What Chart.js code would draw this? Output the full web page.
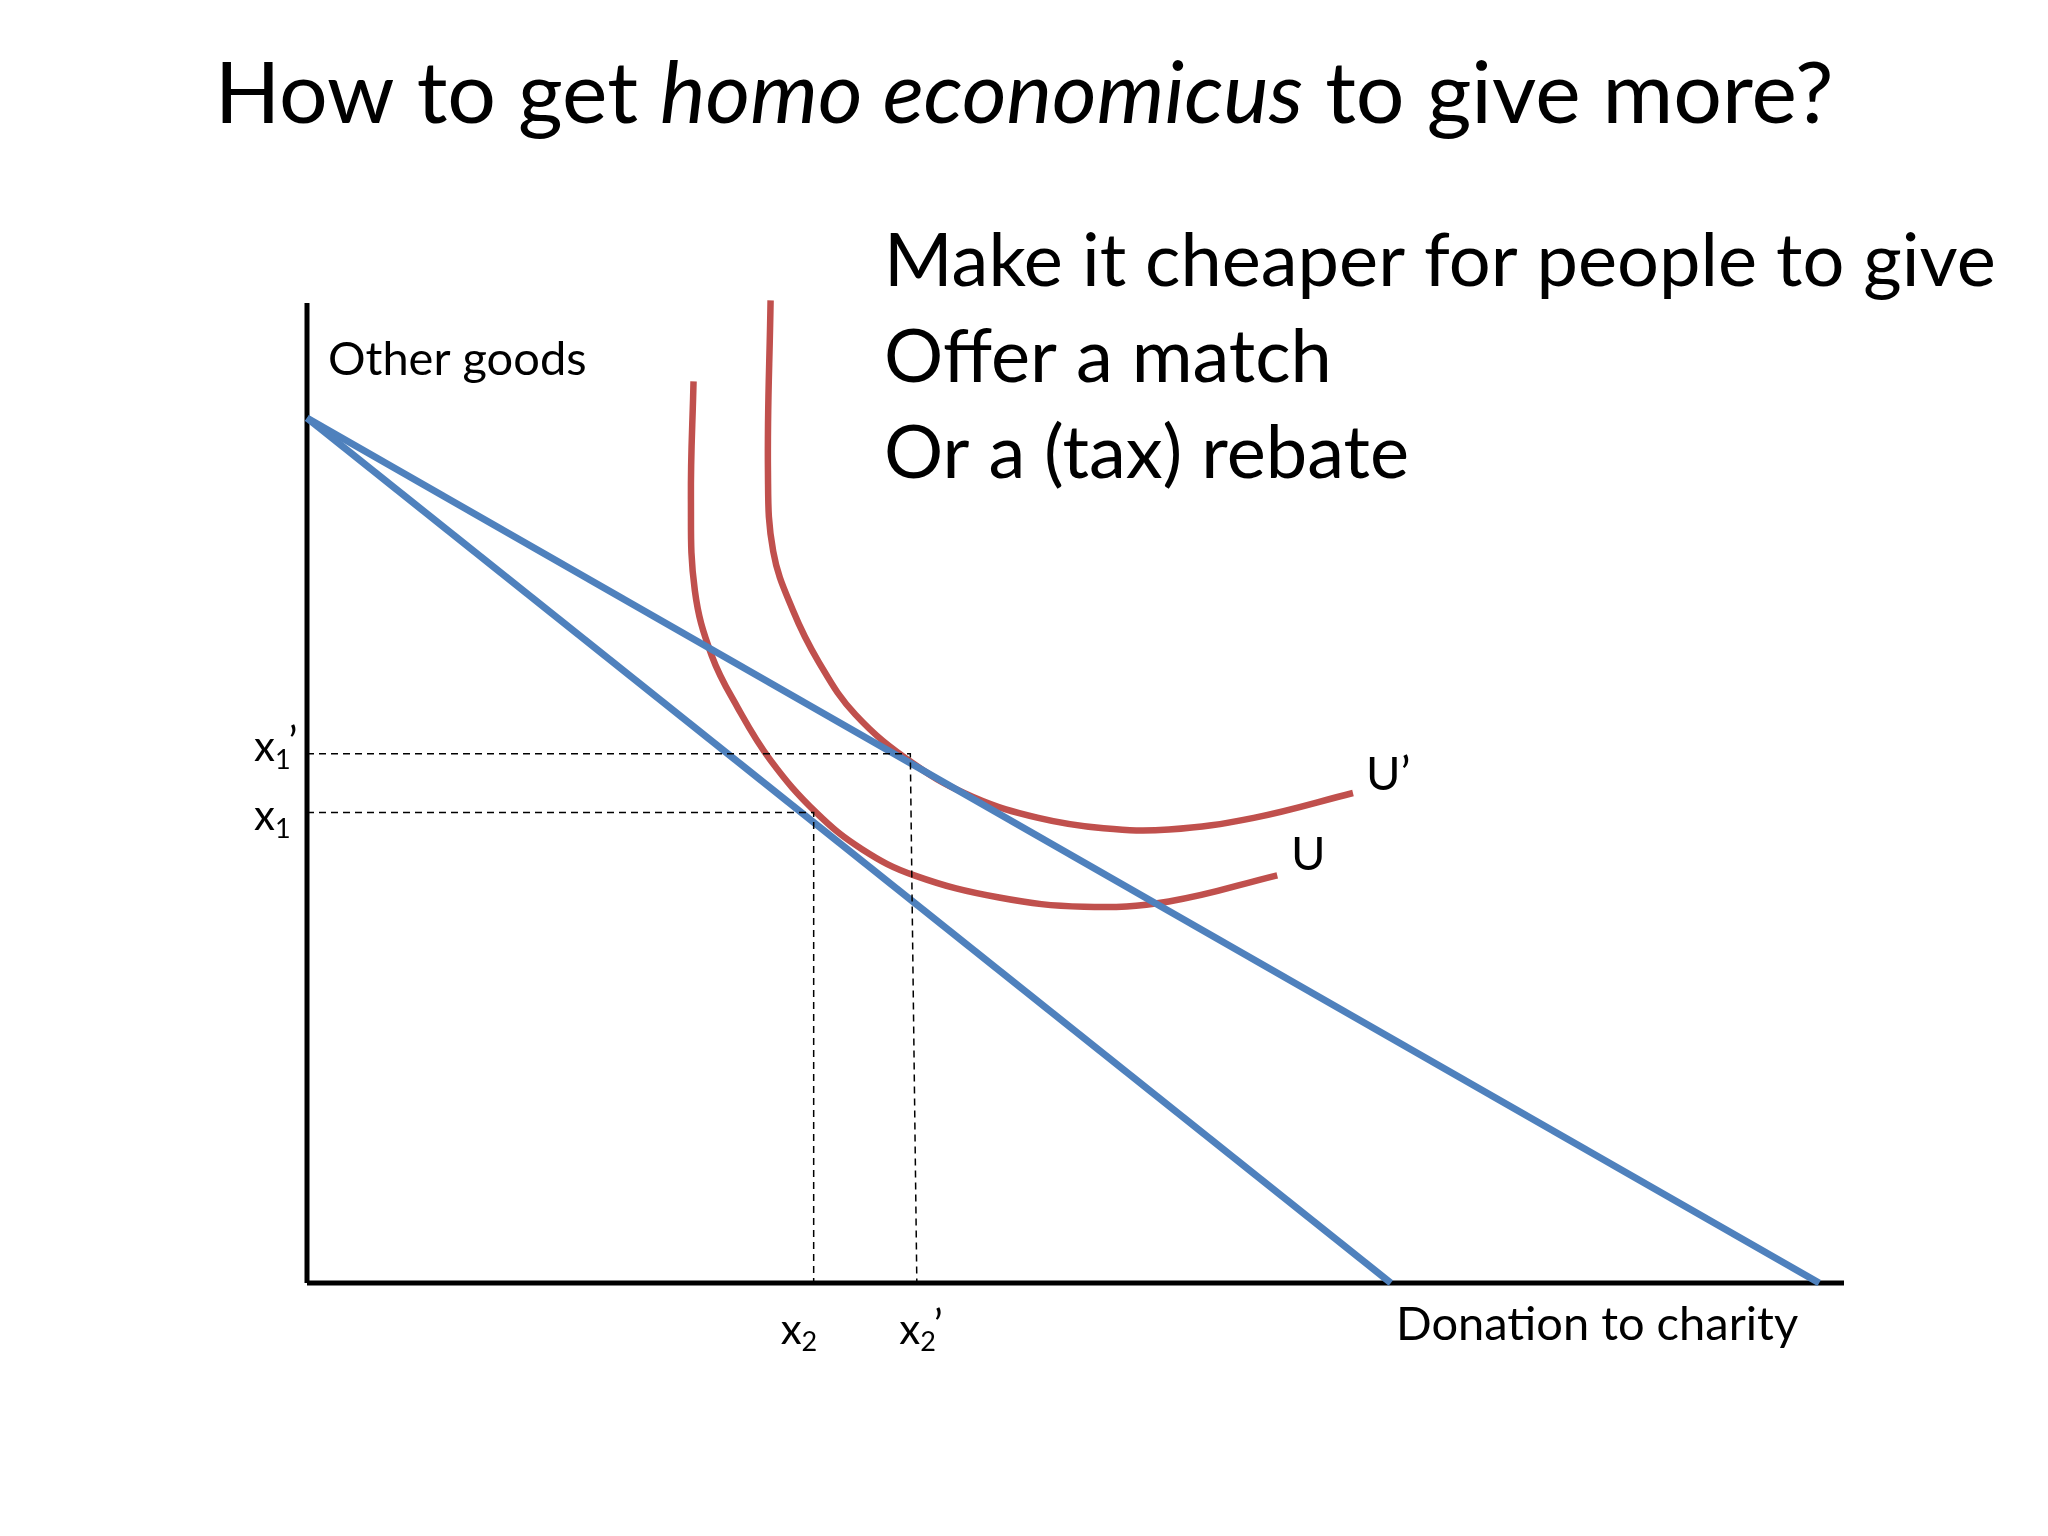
<!DOCTYPE html>
<html><head><meta charset="utf-8">
<script src="https://cdn.jsdelivr.net/npm/chart.js@4"></script>
<style>html,body{margin:0;background:#fff}#w{width:2048px;height:1536px}</style>
</head><body><div id="w"><canvas id="c"></canvas></div>
<script>
const budgetOriginal = [{x:0,y:662},{x:830,y:0}];
const budgetMatched = [{x:0,y:662},{x:1158,y:0}];
const curveU = [{x:296,y:690},{x:294,y:600},{x:297,y:530},{x:310,y:480},{x:330,y:440},{x:355,y:400},{x:390,y:360},{x:425,y:332},{x:465,y:312},{x:530,y:295},{x:595,y:288},{x:660,y:292},{x:743,y:312}];
const curveUprime = [{x:355,y:752},{x:353,y:620},{x:357,y:560},{x:372,y:515},{x:392,y:475},{x:420,y:435},{x:465,y:397},{x:510,y:372},{x:560,y:356},{x:610,y:348},{x:660,y:347},{x:725,y:356},{x:801,y:375}];
const guideX1 = [{x:0,y:360},{x:388,y:360},{x:388,y:0}];
const guideX1p = [{x:0,y:405},{x:462,y:405},{x:467,y:0}];
const axisX = [{x:0,y:0},{x:1177,y:0}];
const axisY = [{x:0,y:0},{x:0,y:750}];
const labels = {title:["How to get ","homo economicus"," to give more?"], bullets:["Make it cheaper for people to give","Offer a match","Or a (tax) rebate"], yTitle:"Other goods", xTitle:"Donation to charity"};

const BLUE='#4F81BD', RED='#C0504D', F='Lato, "Open Sans", sans-serif';
const ln=(data,color,w,extra={})=>Object.assign({data,borderColor:color,borderWidth:w,showLine:true,pointRadius:0,fill:false,tension:0},extra);
function sub(ctx,x,y,main,s,prime,size){
  ctx.font=size+'px '+F;ctx.fillText(main,x,y);let w=ctx.measureText(main).width;
  ctx.font=Math.round(size*0.65)+'px '+F;ctx.fillText(s,x+w,y+size*0.3);let w2=ctx.measureText(s).width;
  if(prime){ctx.font=size+'px '+F;ctx.fillText('’',x+w+w2-2,y-4);}
}
const textPlugin={id:'txt',afterDraw(ch){
  const c=ch.ctx,xs=ch.scales.x,ys=ch.scales.y;c.save();c.fillStyle='#000';c.textBaseline='middle';
  const T=86;
  c.font=T+'px '+F;const a=c.measureText(labels.title[0]).width;
  c.font='italic '+T+'px '+F;const b=c.measureText(labels.title[1]).width;
  c.font=T+'px '+F;const d=c.measureText(labels.title[2]).width;
  let x0=1024-(a+b+d)/2;c.textAlign='left';
  c.fillText(labels.title[0],x0,95);c.font='italic '+T+'px '+F;c.fillText(labels.title[1],x0+a,95);c.font=T+'px '+F;c.fillText(labels.title[2],x0+a+b,95);
  c.font='74px '+F;labels.bullets.forEach((t,i)=>c.fillText(t,884,262+i*96));
  c.font='47px '+F;c.fillText(labels.yTitle,328,360);
  c.fillText(labels.xTitle,1396,1325);
  c.fillText('U’',1366,775);c.fillText('U',1291,855);
  sub(c,254,ys.getPixelForValue(405)-6,'x','1',true,42);
  sub(c,254,ys.getPixelForValue(360)+4,'x','1',false,42);
  sub(c,xs.getPixelForValue(388)-33,1330,'x','2',false,42);
  sub(c,xs.getPixelForValue(465)-15,1330,'x','2',true,42);
  c.restore();}};
new Chart(document.getElementById('c'),{type:'scatter',
 data:{datasets:[
  ln(guideX1,'#000',1.5,{borderDash:[7,5]}),ln(guideX1p,'#000',1.5,{borderDash:[7,5]}),
  ln(budgetOriginal,BLUE,7),ln(budgetMatched,BLUE,7),
  ln(curveU,RED,6.5,{tension:0.4}),ln(curveUprime,RED,6.5,{tension:0.4}),
  ln(axisX,'#000',5),ln(axisY,'#000',5)]},
 options:{responsive:true,maintainAspectRatio:false,animation:false,clip:false,
  layout:{padding:{left:307,right:204,top:303,bottom:253}},
  plugins:{legend:{display:false},tooltip:{enabled:false}},
  scales:{x:{type:'linear',min:0,max:1177,display:false},y:{type:'linear',min:0,max:750,display:false}}},
 plugins:[textPlugin]});
</script></body></html>
